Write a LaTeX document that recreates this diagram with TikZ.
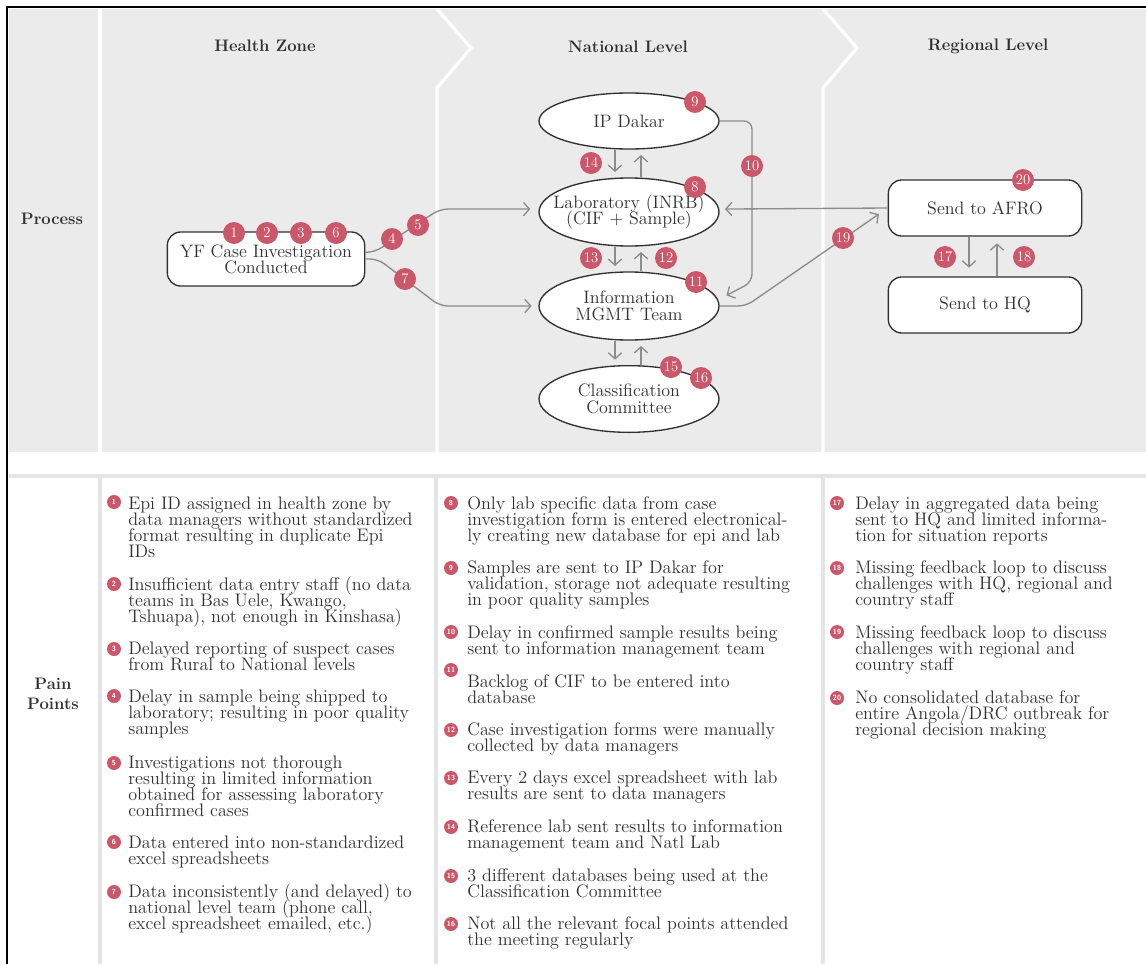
\documentclass[tikz,border=0pt]{standalone}
\usepackage{tikz}
\usetikzlibrary{arrows.meta,positioning,shapes.geometric}
\definecolor{bandgray}{RGB}{234,235,234}
\definecolor{gridgray}{RGB}{228,228,228}
\definecolor{badgered}{RGB}{203,88,106}
\definecolor{flowgray}{RGB}{140,140,140}
\definecolor{inkgray}{RGB}{48,48,48}
\setlength{\lineskiplimit}{-20pt}

\begin{document}
\begin{tikzpicture}[x=0.75pt, y=-0.75pt, >={Straight Barb[length=4.5pt,width=10pt]},
  lvl/.style={text=inkgray, font=\bfseries\fontsize{12.5}{15}\selectfont, align=center},
  proc/.style={draw=inkgray, line width=1pt, fill=white, rounded corners=10pt,
    minimum width=148pt, minimum height=40.5pt, inner sep=0pt, align=center,
    text=inkgray, font=\fontsize{13.5}{12}\selectfont},
  oval/.style={ellipse, draw=inkgray, line width=1pt, fill=white, minimum width=135pt,
    inner xsep=-12pt, inner ysep=0pt, align=center, text=inkgray,
    font=\fontsize{13.5}{12.5}\selectfont},
  badge/.style={circle, fill=badgered, text=white, minimum size=16.5pt, inner sep=0pt,
    font=\fontsize{11}{11}\selectfont},
  dot/.style={circle, fill=badgered, text=white, minimum size=10.5pt, inner sep=0pt,
    font=\sffamily\bfseries\fontsize{5.5}{5.5}\selectfont},
  pain/.style={anchor=base west, align=left, inner sep=0pt, text=inkgray,
    font=\fontsize{13.6}{12}\selectfont},
  flow/.style={draw=flowgray, line width=1pt, ->, rounded corners=6pt}]
  \useasboundingbox (0,0) rectangle (1146,964);

  % process band and column rules
  \fill[bandgray] (9,9) rectangle (1146,452);
  \draw[white, line width=2.5pt] (100,9) -- (100,452);
  \draw[white, line width=2.5pt] (437,9) -- (471,48) -- (437,88) -- (437,452);
  \draw[white, line width=2.5pt] (823,9) -- (857,48) -- (823,88) -- (823,452);
  % pain point grid
  \draw[gridgray, line width=2.5pt] (9,476) -- (1146,476);
  \draw[gridgray, line width=2.5pt] (100,476) -- (100,964);
  \draw[gridgray, line width=2.5pt] (436,476) -- (436,964);
  \draw[gridgray, line width=2.5pt] (823,476) -- (823,964);
  % outer frame
  \draw[black, line width=1pt] (7,964) -- (7,7) -- (1146,7);

  % headings
  \node[lvl] (hz) at (265,46) {Health Zone};
  \node[lvl] (nat) at (628,47) {National Level};
  \node[lvl] (reg) at (988,46) {Regional Level};
  \node[lvl] (process) at (52,219) {Process};
  \node[lvl] (painpts) at (53,694) {Pain\\Points};

  % process nodes
  \node[proc] (yf) at (266,259) {YF Case Investigation\\Conducted};
  \node[oval, minimum height=42pt] (dakar) at (629,121) {IP Dakar};
  \node[oval, minimum height=51pt] (lab) at (629,212) {Laboratory (INRB)\\(CIF + Sample)};
  \node[oval, minimum height=51pt] (info) at (629,306) {Information\\MGMT Team};
  \node[oval, minimum height=50pt] (cc) at (629,399) {Classification\\Committee};
  \node[proc, minimum width=145pt, minimum height=42pt] (afro) at (985,208) {Send to AFRO};
  \node[proc, minimum width=145pt, minimum height=42pt] (hq) at (985,305) {Send to HQ};

  % connectors
  \draw[flow, shorten >=6pt] ([yshift=5pt]yf.east) -- (375,252) -- (440,209) -- ([yshift=2.2pt]lab.west);
  \draw[flow, shorten >=5pt] (yf.east) -- (378,259) -- (440,306) -- (info.west);
  \draw[flow, shorten >=4pt] ([xshift=-10.5pt]dakar.south) -- ([xshift=-10.5pt]lab.north);
  \draw[flow, shorten >=4pt] ([xshift=9pt]lab.north) -- ([xshift=9pt]dakar.south);
  \draw[flow, shorten >=4pt] ([xshift=-10.5pt]lab.south) -- ([xshift=-10.5pt]info.north);
  \draw[flow, shorten >=4pt] ([xshift=9pt]info.north) -- ([xshift=9pt]lab.south);
  \draw[flow, shorten >=4pt] ([xshift=-10.5pt]info.south) -- ([xshift=-10.5pt]cc.north);
  \draw[flow, shorten >=4pt] ([xshift=9pt]cc.north) -- ([xshift=9pt]info.south);
  \draw[flow, shorten >=7pt] (dakar.east) -- (752,121) -- (752,282) -- (info.4);
  \draw[flow, shorten >=4pt] (afro.west) -- ([yshift=2.2pt]lab.east);
  \draw[flow, shorten >=8pt] (info.east) -- (746,306) -- (afro.west);
  \draw[flow, shorten >=6.5pt] ([xshift=-12pt]afro.south) -- ([xshift=-12pt]hq.north);
  \draw[flow, shorten >=5pt] ([xshift=9pt]hq.north) -- ([xshift=9pt]afro.south);

  % numbered badges
  \node[badge] (n1) at (234,233) {1};
  \node[badge] (n2) at (267,233) {2};
  \node[badge] (n3) at (301,233) {3};
  \node[badge] (n6) at (336,233) {6};
  \node[badge] (n4) at (392,239) {4};
  \node[badge] (n5) at (418,225) {5};
  \node[badge] (n7) at (405,279) {7};
  \node[badge] (n9) at (695,102) {9};
  \node[badge] (n8) at (695,187) {8};
  \node[badge] (n11) at (696,282) {11};
  \node[badge] (n14) at (591,163) {14};
  \node[badge] (n13) at (591,258) {13};
  \node[badge] (n12) at (666,258) {12};
  \node[badge] (n10) at (752,166) {10};
  \node[badge] (n15) at (671,367) {15};
  \node[badge] (n16) at (701,378) {16};
  \node[badge] (n19) at (843,238) {19};
  \node[badge] (n20) at (1023,180) {20};
  \node[badge] (n17) at (945,257) {17};
  \node[badge] (n18) at (1024,257) {18};

  % pain points, health zone (placed at the baseline of the last line)
  \node[dot] (d1) at (114,502) {1};
  \node[pain] (p1) at (128,557) {Epi ID assigned in health zone by\\data managers without standardized\\format resulting in duplicate Epi\\IDs};
  \node[dot] (d2) at (114,584) {2};
  \node[pain] (p2) at (128,622) {Insufficient data entry staff (no data\\teams in Bas Uele, Kwango,\\Tshuapa), not enough in Kinshasa)};
  \node[dot] (d3) at (114,649) {3};
  \node[pain] (p3) at (128,670) {Delayed reporting of suspect cases\\from Rural to National levels};
  \node[dot] (d4) at (114,696) {4};
  \node[pain] (p4) at (128,734) {Delay in sample being shipped to\\laboratory; resulting in poor quality\\samples};
  \node[dot] (d5) at (114,763) {5};
  \node[pain] (p5) at (128,816) {Investigations not thorough\\resulting in limited information\\obtained for assessing laboratory\\confirmed cases};
  \node[dot] (d6) at (114,842) {6};
  \node[pain] (p6) at (128,864) {Data entered into non-standardized\\excel spreadsheets};
  \node[dot] (d7) at (114,892) {7};
  \node[pain] (p7) at (128,929) {Data inconsistently (and delayed) to\\national level team (phone call,\\excel spreadsheet emailed, etc.)};

  % pain points, national level
  \node[dot] (d8) at (451,503) {8};
  \node[pain] (p8) at (467,541) {Only lab specific data from case\\investigation form is entered electronical-\\ly creating new database for epi and lab};
  \node[dot] (d9) at (451,568) {9};
  \node[pain] (p9) at (467,605) {Samples are sent to IP Dakar for\\validation, storage not adequate resulting\\in poor quality samples};
  \node[dot] (d10) at (451,632) {10};
  \node[pain] (p10) at (467,654) {Delay in confirmed sample results being\\sent to information management team};
  \node[dot] (d11) at (451,670) {11};
  \node[pain] (p11) at (467,703) {Backlog of CIF to be entered into\\database};
  \node[dot] (d12) at (451,730) {12};
  \node[pain] (p12) at (467,751) {Case investigation forms were manually\\collected by data managers};
  \node[dot] (d13) at (451,778) {13};
  \node[pain] (p13) at (467,799) {Every 2 days excel spreadsheet with lab\\results are sent to data managers};
  \node[dot] (d14) at (451,827) {14};
  \node[pain] (p14) at (467,848) {Reference lab sent results to information\\management team and Natl Lab};
  \node[dot] (d15) at (451,876) {15};
  \node[pain] (p15) at (467,897) {3 different databases being used at the\\Classification Committee};
  \node[dot] (d16) at (451,924) {16};
  \node[pain] (p16) at (467,945) {Not all the relevant focal points attended\\the meeting regularly};

  % pain points, regional level
  \node[dot] (d17) at (837,503) {17};
  \node[pain] (p17) at (855,541) {Delay in aggregated data being\\sent to HQ and limited informa-\\tion for situation reports};
  \node[dot] (d18) at (837,568) {18};
  \node[pain] (p18) at (855,605) {Missing feedback loop to discuss\\challenges with HQ, regional and\\country staff};
  \node[dot] (d19) at (837,632) {19};
  \node[pain] (p19) at (855,670) {Missing feedback loop to discuss\\challenges with regional and\\country staff};
  \node[dot] (d20) at (837,698) {20};
  \node[pain] (p20) at (855,735) {No consolidated database for\\entire Angola/DRC outbreak for\\regional decision making};
\end{tikzpicture}
\end{document}
